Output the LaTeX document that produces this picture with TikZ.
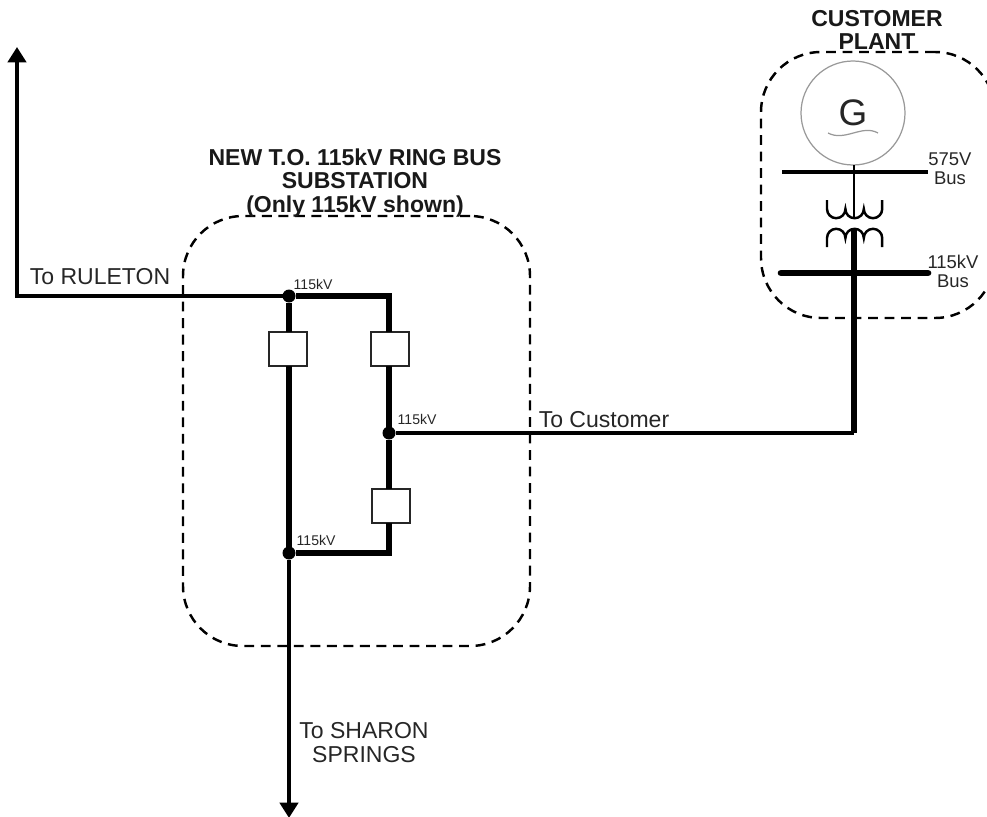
\documentclass[tikz,border=0pt]{standalone}
\usepackage{fontspec}
\setmainfont{Liberation Sans}
\usetikzlibrary{arrows.meta}
\tikzset{
  busline/.style={line width=1.9pt},
  feeder/.style={line width=1.1pt},
  feederend/.style={line width=1.1pt,-{Triangle[width=5.2pt,length=4.4pt]}},
  zonebox/.style={draw,dashed,dash pattern=on 2.8pt off 1.9pt,line width=0.7pt,rounded corners=0.6cm,inner sep=0,outer sep=0},
  breaker/.style={draw=black!85,fill=white,line width=0.7pt,minimum width=0.38cm,minimum height=0.34cm,inner sep=0,outer sep=0},
  junction/.style={circle,fill=black,minimum size=0.13cm,inner sep=0,outer sep=0},
  biglabel/.style={font=\fontsize{6.55}{6.8}\selectfont,text=black!85,align=center,inner sep=0},
  midlabel/.style={font=\fontsize{5.25}{5.4}\selectfont,text=black!85,align=center,inner sep=0},
  titlelabel/.style={font=\fontsize{6.55}{6.6}\selectfont\bfseries,text=black!90,align=center,inner sep=0},
  kvlabel/.style={font=\fontsize{4}{4.5}\selectfont,text=black!85,inner sep=0},
}
\begin{document}
\begin{tikzpicture}
\useasboundingbox (0,0) rectangle (9.87,8.16);
% zones
\node[zonebox,minimum width=3.47cm,minimum height=4.30cm] (ringzone) at (3.565,3.85) {};
\node[zonebox,minimum width=2.34cm,minimum height=2.66cm] (plantzone) at (8.78,6.31) {};
% ring bus
\node[junction] (topleft) at (2.89,5.20) {};
\coordinate (topright) at (3.89,5.20);
\node[junction] (midright) at (3.89,3.83) {};
\node[junction] (botleft) at (2.89,2.63) {};
\coordinate (botright) at (3.89,2.63);
\node[breaker] (brkleft) at (2.88,4.67) {};
\node[breaker] (brktop) at (3.90,4.67) {};
\node[breaker] (brkbot) at (3.91,3.10) {};
\draw[busline,line join=miter] (brktop.north -| topright) -- (topright) -- (topleft) -- (topleft |- brkleft.north);
\draw[busline] (topleft |- brkleft.south) -- (botleft);
\draw[busline] (topright |- brktop.south) -- (midright) -- (topright |- brkbot.north);
\draw[busline,line join=miter] (topright |- brkbot.south) -- (botright) -- (botleft);
% feeders
\coordinate (ruleton) at (0.17,7.69);
\coordinate (sharon) at (2.90,-0.02);
\draw[feederend] (topleft) -- (ruleton |- topleft) -- (ruleton);
\draw[feederend] (botleft) -- (botleft |- sharon);
% plant
\node[circle,draw=black!40,line width=0.35pt,minimum size=1.04cm,inner sep=0,outer sep=0,font=\fontsize{10.5}{12}\selectfont,text=black!85] (gen) at (8.53,7.03) {G};
\draw[black!40,line width=0.35pt] (8.28,6.83) .. controls (8.45,6.74) and (8.62,6.92) .. (8.78,6.83);
\coordinate (lvleft) at (7.82,6.44);
\coordinate (lvright) at (9.28,6.44);
\coordinate (hvleft) at (7.81,5.43);
\coordinate (hvright) at (9.28,5.43);
\coordinate (wtop) at (8.27,6.16);
\coordinate (wbot) at (8.27,5.69);
\coordinate (lvtap) at (8.54,5.98);
\coordinate (hvtap) at (8.54,5.86);
\coordinate (bend) at (8.54,3.83);
\draw[line width=1.1pt] (lvleft) -- (lvright);
\draw[busline,line cap=round] (hvleft) -- (hvright);
\draw[line width=0.7pt] (gen.south -| lvtap) -- (lvtap);
\draw[line width=0.7pt] (wtop) -- ++(0,-0.09) arc (180:360:0.092) arc (180:360:0.092) arc (180:360:0.092) -- ++(0,0.09);
\draw[line width=0.7pt] (wbot) -- ++(0,0.09) arc (180:0:0.092) arc (180:0:0.092) arc (180:0:0.092) -- ++(0,-0.09);
\draw[feeder] (midright) -- (bend);
\draw[line width=1.5pt] (bend) -- (hvtap);
% labels
\node[titlelabel] (ringtitle) at (3.55,6.33) {NEW T.O. 115kV RING BUS\\SUBSTATION\\(Only 115kV shown)};
\node[titlelabel] (planttitle) at (8.77,7.86) {CUSTOMER\\PLANT};
\node[biglabel] (toruleton) at (1.00,5.39) {To RULETON};
\node[biglabel] (tocustomer) at (6.04,3.96) {To Customer};
\node[biglabel] (tosharon) at (3.64,0.73) {To SHARON\\SPRINGS};
\node[midlabel] (lvlabel) at (9.50,6.47) {575V\\Bus};
\node[midlabel] (hvlabel) at (9.53,5.45) {115kV\\Bus};
\node[kvlabel,anchor=west] (kvtop) at (2.93,5.32) {115kV};
\node[kvlabel,anchor=west] (kvmid) at (3.97,3.97) {115kV};
\node[kvlabel,anchor=west] (kvbot) at (2.96,2.76) {115kV};
\end{tikzpicture}
\end{document}
